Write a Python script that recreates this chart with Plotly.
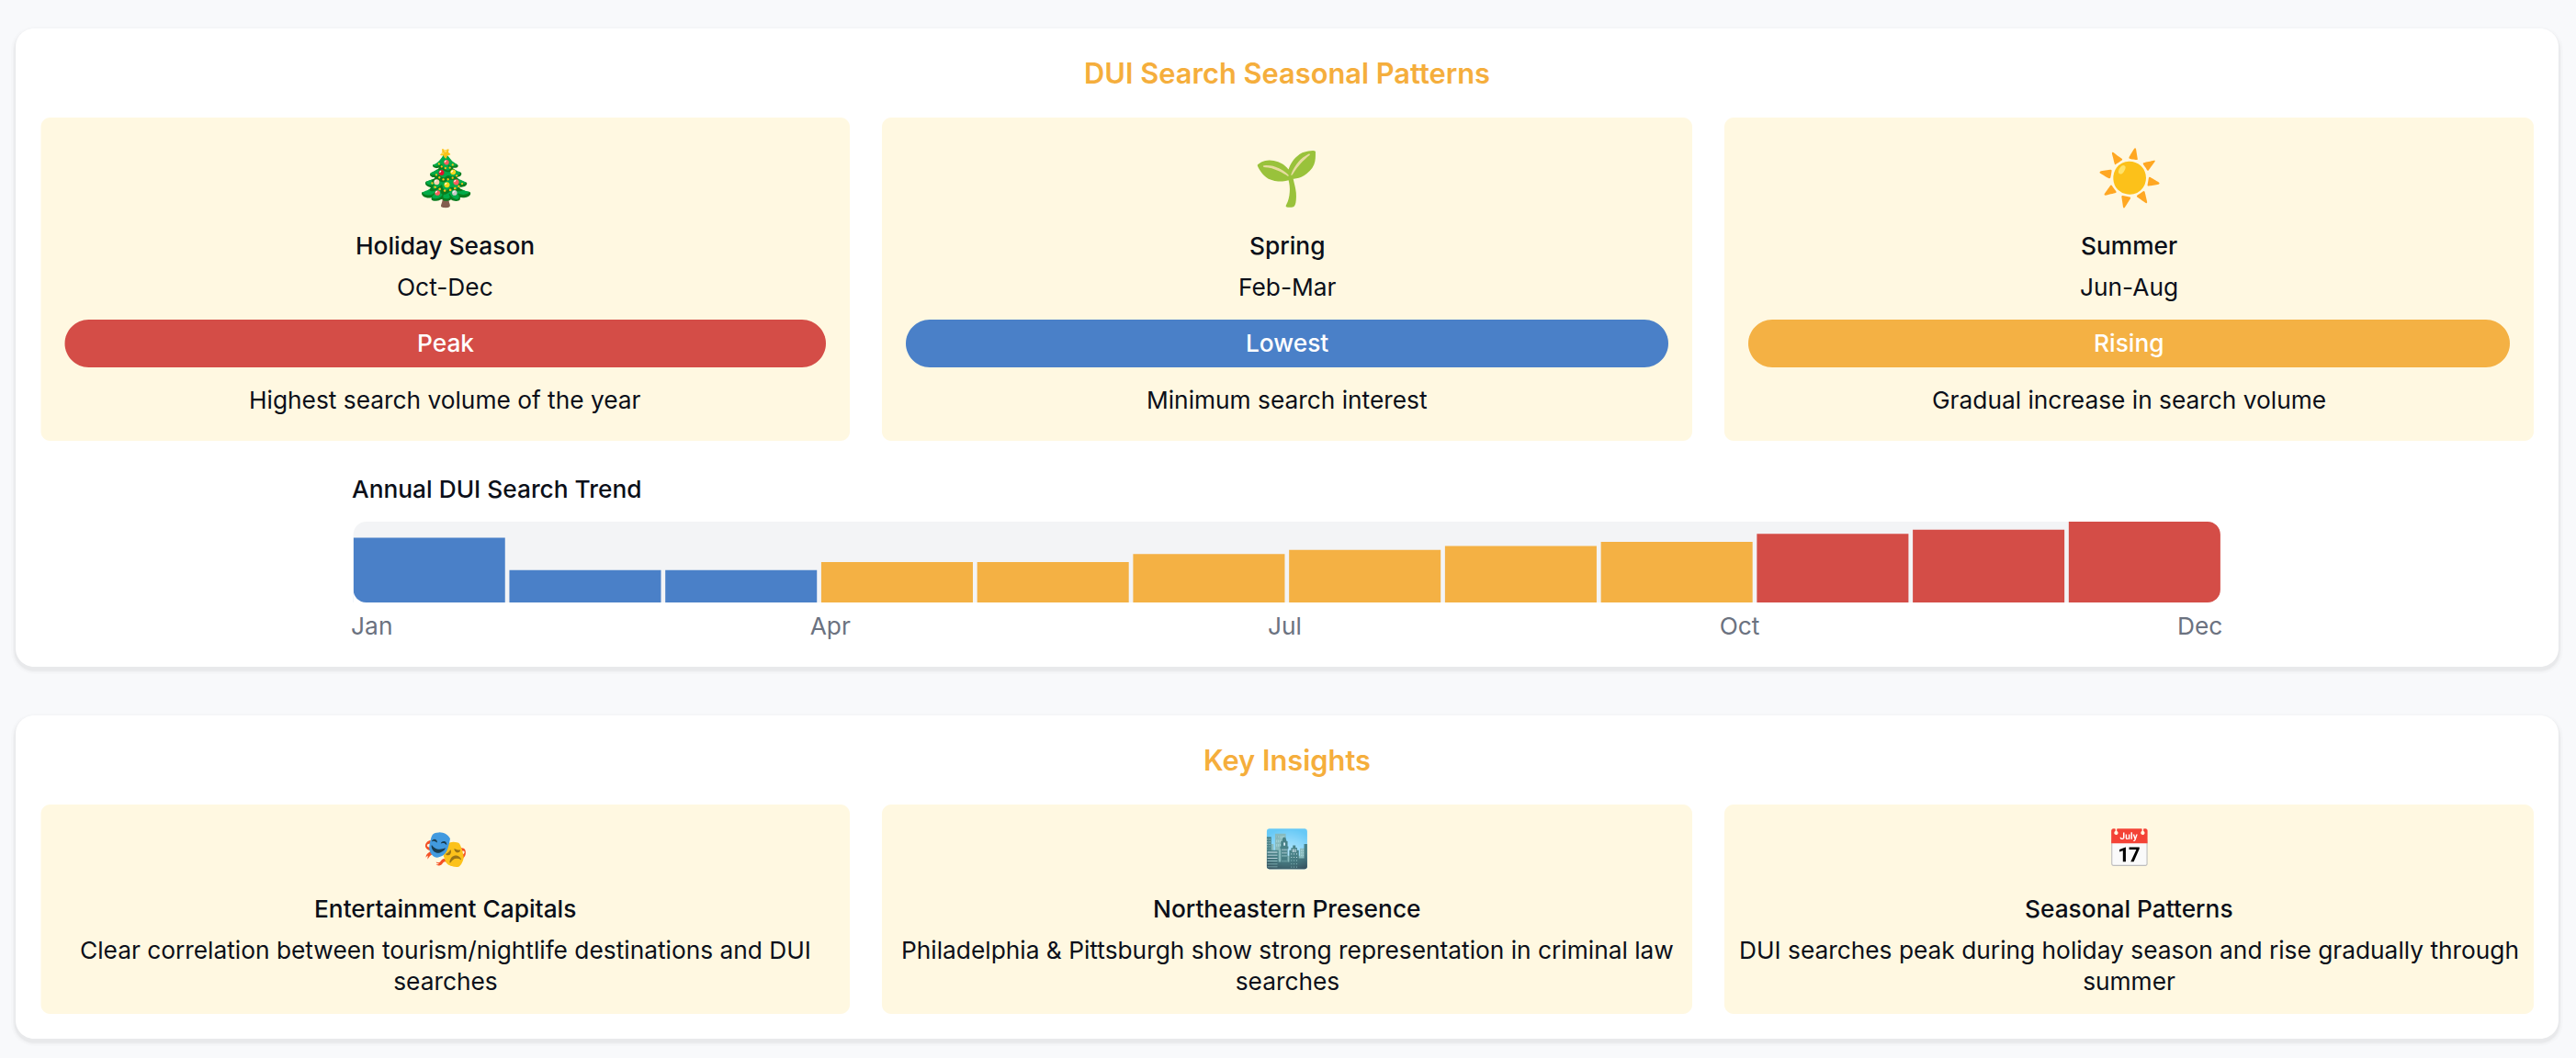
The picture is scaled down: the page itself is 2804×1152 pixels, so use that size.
import plotly.graph_objects as go

W, H = 2804, 1152

# ---- data ----
months = ["Jan","Feb","Mar","Apr","May","Jun","Jul","Aug","Sep","Oct","Nov","Dec"]
search_interest = [80, 40, 40, 50, 50, 60, 65, 70, 75, 85, 90, 100]
month_colors = ["#4A80C8"]*3 + ["#F4B144"]*6 + ["#D44D47"]*3
tick_labels = ["Jan", "Apr", "Jul", "Oct", "Dec"]
tick_positions = [-0.368, 2.572, 5.486, 8.403, 11.355]

season_icons = ["🎄", "🌱", "☀️"]
season_names = ["Holiday Season", "Spring", "Summer"]
season_ranges = ["Oct-Dec", "Feb-Mar", "Jun-Aug"]
season_status = ["Peak", "Lowest", "Rising"]
season_colors = ["#D44D47", "#4A80C8", "#F4B144"]
season_notes = ["Highest search volume of the year", "Minimum search interest", "Gradual increase in search volume"]

insight_icons = ["🎭", "🏙️", "📅"]
insight_names = ["Entertainment Capitals", "Northeastern Presence", "Seasonal Patterns"]
insight_notes = [
    "Clear correlation between tourism/nightlife destinations and DUI<br>searches",
    "Philadelphia & Pittsburgh show strong representation in criminal law<br>searches",
    "DUI searches peak during holiday season and rise gradually through<br>summer",
]

# ---- layout helpers (pixel -> paper) ----
FONT = "Inter"
BODY = 26.3
CARD = "#FFF8E1"
def px(x): return x / W
def py(y): return 1 - y / H

def rr_path(x0, y0, x1, y1, r):
    k = r * 0.45
    pts = [
        f"M{px(x0+r)},{py(y0)}", f"L{px(x1-r)},{py(y0)}",
        f"C{px(x1-k)},{py(y0)} {px(x1)},{py(y0+k)} {px(x1)},{py(y0+r)}",
        f"L{px(x1)},{py(y1-r)}",
        f"C{px(x1)},{py(y1-k)} {px(x1-k)},{py(y1)} {px(x1-r)},{py(y1)}",
        f"L{px(x0+r)},{py(y1)}",
        f"C{px(x0+k)},{py(y1)} {px(x0)},{py(y1-k)} {px(x0)},{py(y1-r)}",
        f"L{px(x0)},{py(y0+r)}",
        f"C{px(x0)},{py(y0+k)} {px(x0+k)},{py(y0)} {px(x0+r)},{py(y0)}", "Z",
    ]
    return " ".join(pts)

shapes = []
def rrect(x0, y0, x1, y1, r, color, opacity=1, layer="below"):
    shapes.append(dict(type="path", path=rr_path(x0, y0, x1, y1, r), xref="paper", yref="paper",
                       fillcolor=color, opacity=opacity, line=dict(width=0), layer=layer))

annotations = []
def label(x, y, text, size, color="#0B0F19", weight=400, anchor="center"):
    annotations.append(dict(x=px(x), y=py(y), xref="paper", yref="paper", text=text, showarrow=False,
                            xanchor=anchor, yanchor="middle", align="center",
                            font=dict(family=FONT, size=size, color=color, weight=weight)))

PANELS = [(17, 31, 2785, 726), (17, 779, 2785, 1131)]
for x0, y0, x1, y1 in PANELS:
    for grow, op in [(5, 0.012), (3, 0.02), (1.5, 0.03)]:
        rrect(x0-grow, y0-grow+3, x1+grow, y1+grow+3, 20+grow, "#000000", op)
    rrect(x0, y0, x1, y1, 20, "#FFFFFF")

CARD_X = [(44.5, 925), (960, 1842), (1877, 2758)]
for i, (x0, x1) in enumerate(CARD_X):
    cx = (x0 + x1) / 2
    rrect(x0, 128, x1, 480, 10, CARD)
    rrect(x0+26, 348, x1-26, 400, 26, season_colors[i])
    label(cx, 193, season_icons[i], 58)
    label(cx, 268, season_names[i], BODY, weight=500)
    label(cx, 312.5, season_ranges[i], BODY)
    label(cx, 373.5, season_status[i], BODY, color="#FFFFFF", weight=500)
    label(cx, 435.5, season_notes[i], BODY)

    rrect(x0, 876, x1, 1104, 10, CARD)
    label(cx, 923, insight_icons[i], 40)
    label(cx, 989, insight_names[i], BODY, weight=500)
    label(cx, 1051, insight_notes[i], BODY)

label(1401, 80, "DUI Search Seasonal Patterns", 30.8, color="#F5AE3C", weight=600)
label(1401, 827.5, "Key Insights", 30.8, color="#F5AE3C", weight=600)
label(381, 532, "Annual DUI Search Trend", BODY, weight=500, anchor="left")

# chart
CX0, CX1, CY0, CY1 = 384.6, 2417, 568, 656
CR = 14
rrect(CX0, CY0, CX1, CY1, CR, "#F3F4F6")

def corner(cx, cy, sx, sy):
    r, k = CR, CR * 0.45
    p = (f"M{px(cx)},{py(cy)} L{px(cx+sx*r)},{py(cy)} "
         f"C{px(cx+sx*k)},{py(cy)} {px(cx)},{py(cy+sy*k)} {px(cx)},{py(cy+sy*r)} Z")
    shapes.append(dict(type="path", path=p, xref="paper", yref="paper", fillcolor="#FFFFFF",
                       line=dict(width=0), layer="above"))
corner(CX0, CY1, 1, -1)
corner(CX1, CY1, -1, -1)
corner(CX1, CY0, -1, 1)

fig = go.Figure(go.Bar(x=list(range(12)), y=search_interest, marker=dict(color=month_colors, line=dict(width=0)),
                       hovertext=months, hoverinfo="text+y"))
fig.update_layout(
    width=W, height=H, margin=dict(l=0, r=0, t=0, b=0, autoexpand=False),
    paper_bgcolor="#F8F9FB", plot_bgcolor="rgba(0,0,0,0)", showlegend=False, bargap=0.0277,
    shapes=shapes, annotations=annotations,
    xaxis=dict(domain=[px(CX0), px(CX1)], range=[-0.4868, 11.4868], showgrid=False, zeroline=False,
               tickmode="array", tickvals=tick_positions, ticktext=tick_labels, ticks="outside",
               ticklen=2, tickcolor="rgba(0,0,0,0)", tickfont=dict(family=FONT, size=BODY, color="#6B7280"), showline=False),
    yaxis=dict(domain=[py(CY1), py(CY0)], range=[0, 100], visible=False, fixedrange=True),
)
fig.write_html("out.html", config=dict(displayModeBar=False),
               post_script="document.body.style.margin='0';document.documentElement.style.overflow='hidden';window.dispatchEvent(new Event('resize'));")
